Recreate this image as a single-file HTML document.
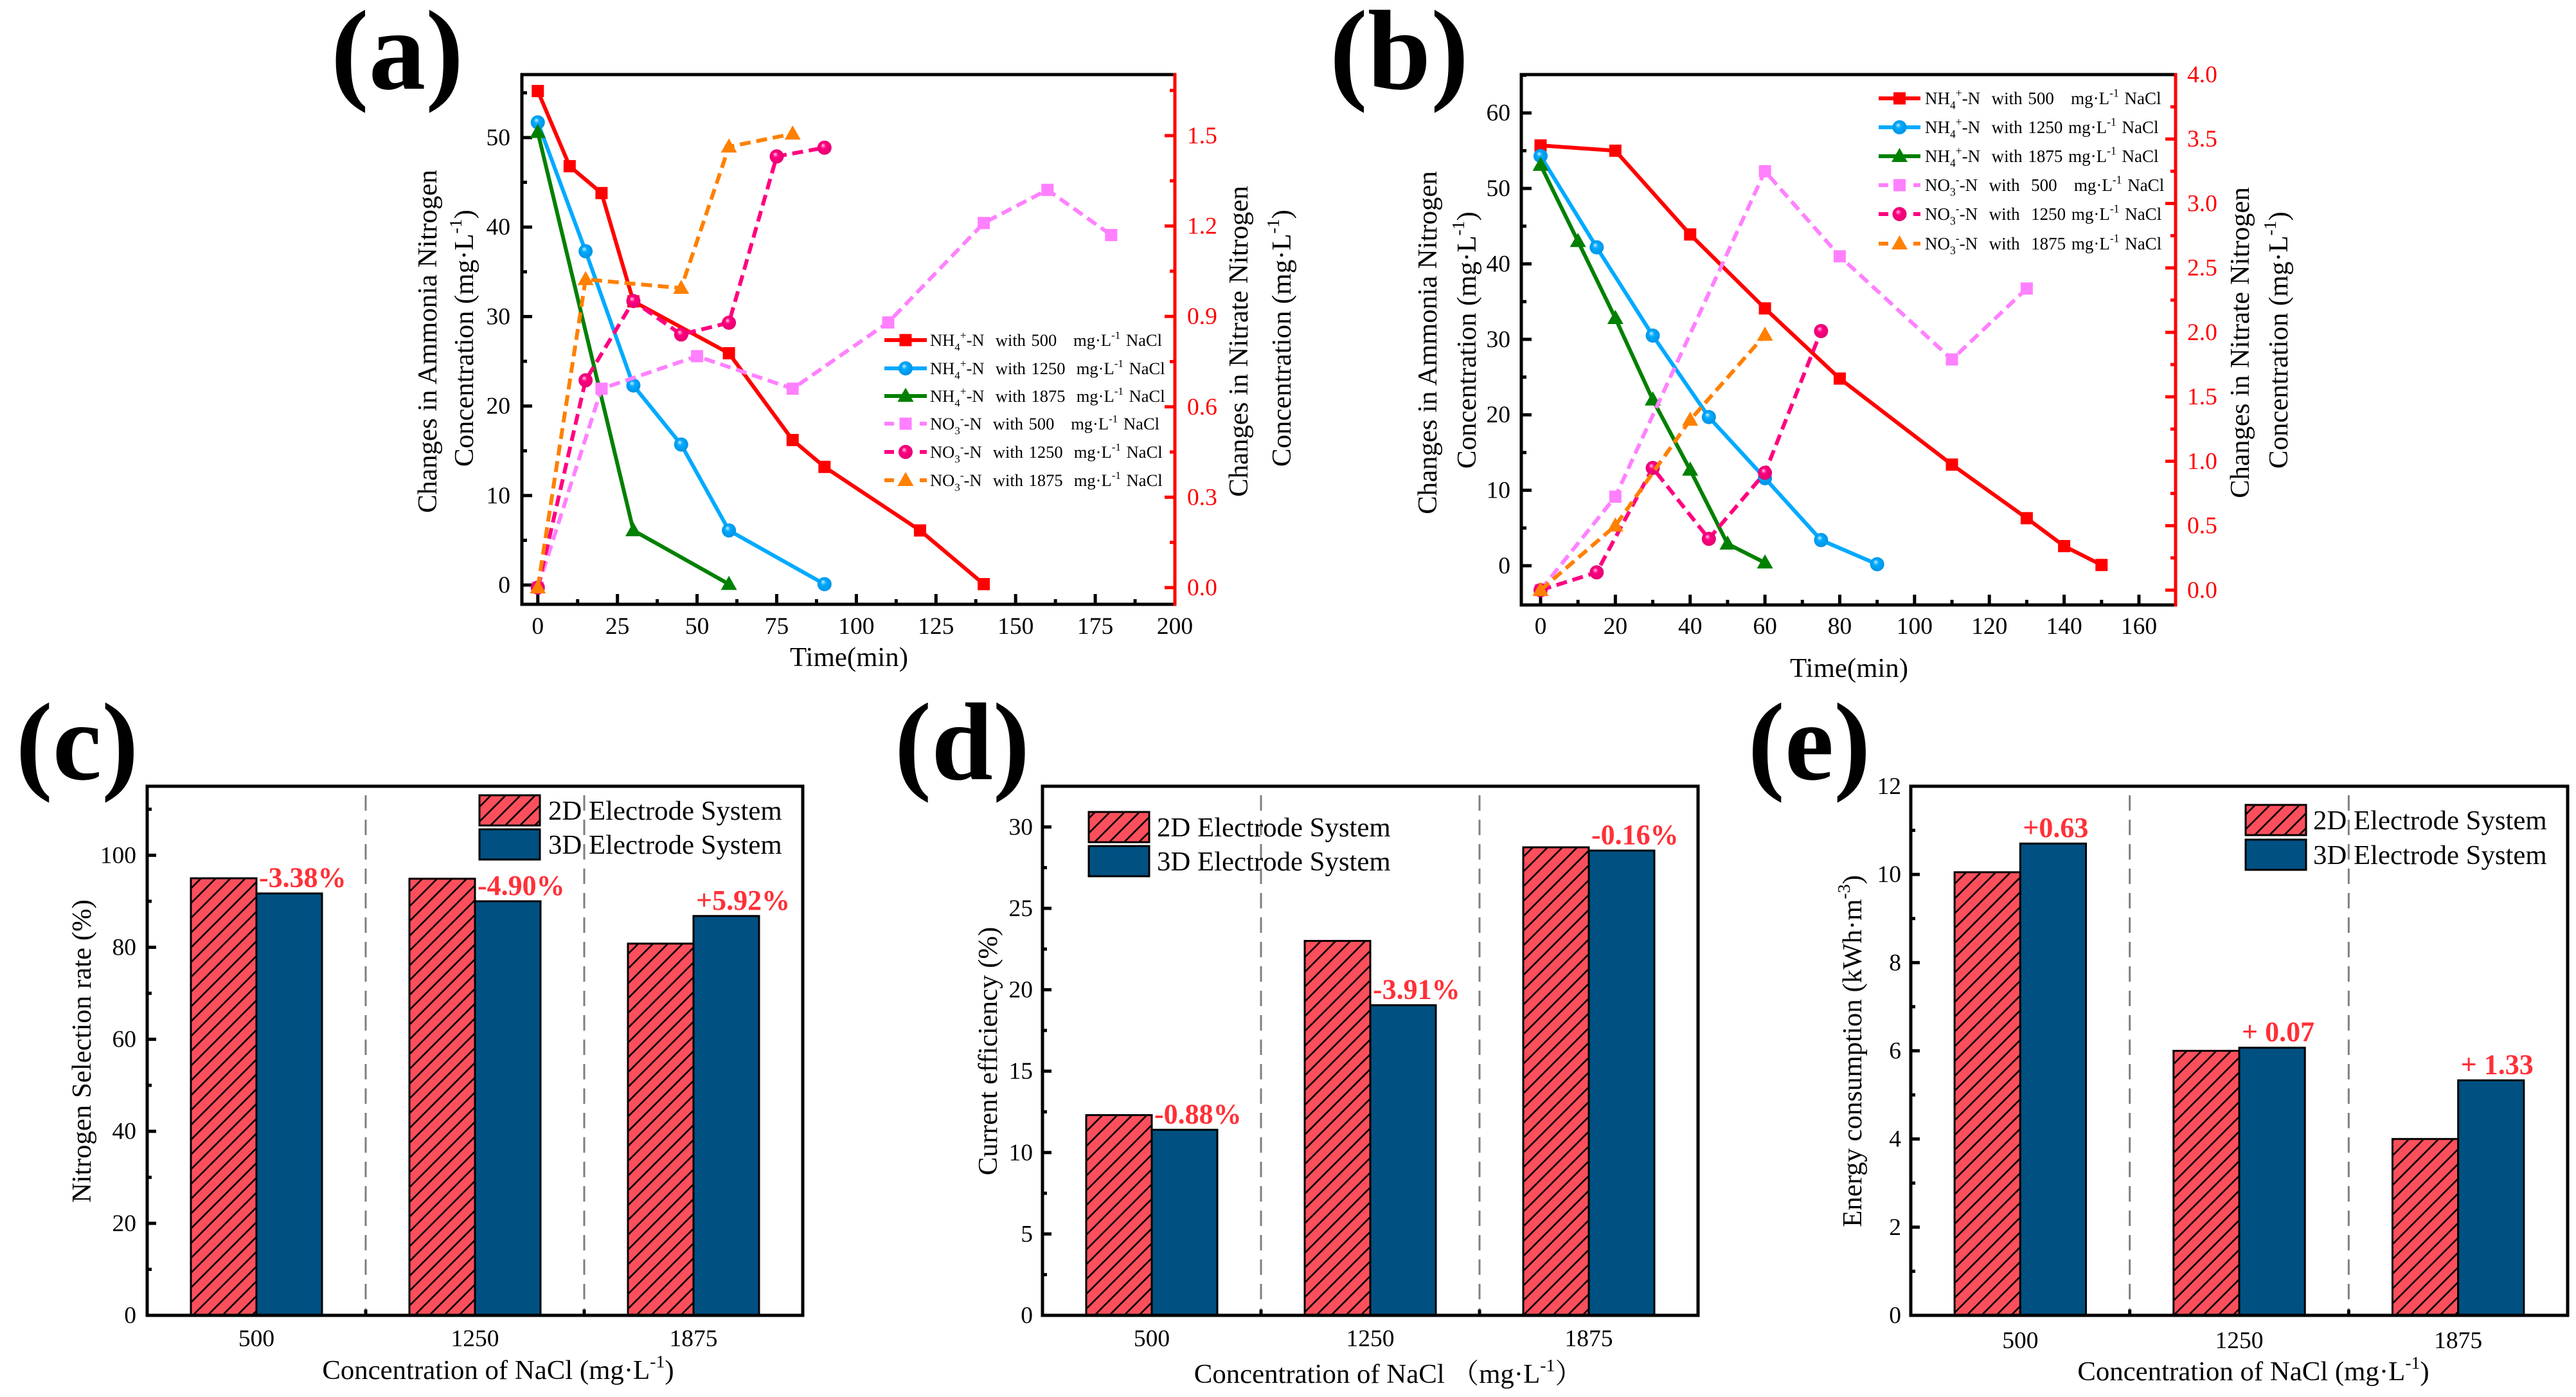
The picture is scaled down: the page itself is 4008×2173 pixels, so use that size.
<!DOCTYPE html>
<html lang="en">
<head>
<meta charset="utf-8">
<title>Nitrogen removal charts</title>
<style>
html,body{margin:0;padding:0;background:#fff;}
svg{display:block;}
text{font-family:"Liberation Serif","Noto Serif CJK SC",serif;white-space:pre;}
</style>
</head>
<body>
<svg id="root" xmlns="http://www.w3.org/2000/svg" width="4008" height="2173" viewBox="0 0 4008 2173">
<defs>
<pattern id="hatch" patternUnits="userSpaceOnUse" width="23" height="23">
<rect width="23" height="23" fill="#fb4f5c"></rect>
<path d="M-4 27L27 -4M-4 4L4 -4M19 27L27 19" stroke="#000" stroke-width="2.6"></path>
</pattern>
<radialGradient id="ball-blue" cx="50%" cy="50%" r="55%" fx="38%" fy="32%"><stop offset="0" stop-color="#cfefff"></stop><stop offset=".35" stop-color="#00aaff"></stop><stop offset="1" stop-color="#0090e0"></stop></radialGradient>
<radialGradient id="ball-pink" cx="50%" cy="50%" r="55%" fx="38%" fy="32%"><stop offset="0" stop-color="#ffd0e8"></stop><stop offset=".35" stop-color="#ff0080"></stop><stop offset="1" stop-color="#e00070"></stop></radialGradient>
</defs>
</svg>
<script>
/* ---------- panel (a) data ---------- */
const aNh4Time500 = [0, 10, 20, 30, 60, 80, 90, 120, 140];
const aNh4Value500 = [55.2, 46.8, 43.8, 31.7, 25.9, 16.2, 13.2, 6.1, 0.1];
const aNh4Time1250 = [0, 15, 30, 45, 60, 90];
const aNh4Value1250 = [51.7, 37.3, 22.3, 15.7, 6.1, 0.1];
const aNh4Time1875 = [0, 30, 60];
const aNh4Value1875 = [50.6, 6.1, 0.1];
const aNo3Time500 = [0, 20, 50, 80, 110, 140, 160, 180];
const aNo3Value500 = [0, 0.66, 0.768, 0.66, 0.88, 1.21, 1.32, 1.17];
const aNo3Time1250 = [0, 15, 30, 45, 60, 75, 90];
const aNo3Value1250 = [0, 0.688, 0.951, 0.84, 0.879, 1.431, 1.46];
const aNo3Time1875 = [0, 15, 45, 60, 80];
const aNo3Value1875 = [0, 1.023, 0.994, 1.463, 1.506];
const aXTicks = ['0', '25', '50', '75', '100', '125', '150', '175', '200'];
const aLeftTicks = ['0', '10', '20', '30', '40', '50'];
const aRightTicks = ['0.0', '0.3', '0.6', '0.9', '1.2', '1.5'];

/* ---------- panel (b) data ---------- */
const bNh4Time500 = [0, 20, 40, 60, 80, 110, 130, 140, 150];
const bNh4Value500 = [55.7, 55, 43.9, 34.1, 24.8, 13.4, 6.3, 2.6, 0.1];
const bNh4Time1250 = [0, 15, 30, 45, 60, 75, 90];
const bNh4Value1250 = [54.3, 42.2, 30.5, 19.7, 11.6, 3.4, 0.2];
const bNh4Time1875 = [0, 10, 20, 30, 40, 50, 60];
const bNh4Value1875 = [53.1, 43, 32.8, 22, 12.7, 2.9, 0.4];
const bNo3Time500 = [0, 20, 60, 80, 110, 130];
const bNo3Value500 = [0, 0.725, 3.25, 2.59, 1.79, 2.34];
const bNo3Time1250 = [0, 15, 30, 45, 60, 75];
const bNo3Value1250 = [0, 0.138, 0.948, 0.398, 0.91, 2.01];
const bNo3Time1875 = [0, 20, 40, 60];
const bNo3Value1875 = [0, 0.5, 1.32, 1.98];
const bXTicks = ['0', '20', '40', '60', '80', '100', '120', '140', '160'];
const bLeftTicks = ['0', '10', '20', '30', '40', '50', '60'];
const bRightTicks = ['0.0', '0.5', '1.0', '1.5', '2.0', '2.5', '3.0', '3.5', '4.0'];

/* ---------- bar panels data ---------- */
const barCategories = ['500', '1250', '1875'];
const cValues2D = [95.0, 94.9, 80.8];
const cValues3D = [91.7, 90.0, 86.8];
const cNotes = ['-3.38%', '-4.90%', '+5.92%'];
const cTicks = ['0', '20', '40', '60', '80', '100'];
const dValues2D = [12.3, 23.0, 28.75];
const dValues3D = [11.4, 19.05, 28.55];
const dNotes = ['-0.88%', '-3.91%', '-0.16%'];
const dTicks = ['0', '5', '10', '15', '20', '25', '30'];
const eValues2D = [10.05, 6.0, 4.0];
const eValues3D = [10.7, 6.07, 5.33];
const eNotes = ['+0.63', '+ 0.07', '+ 1.33'];
const eTicks = ['0', '2', '4', '6', '8', '10', '12'];

/* ---------- helpers ---------- */
const NS = 'http://www.w3.org/2000/svg';
const root = document.getElementById('root');
const TICK_SIZE = 37.5;
const TITLE_SIZE = 42.8;
function mk(tag, attrs, parent) {
  const n = document.createElementNS(NS, tag);
  for (const k in attrs) n.setAttribute(k, attrs[k]);
  (parent || root).appendChild(n);
  return n;
}
function group(name, parent) {
  const g = mk('g', {}, parent);
  
  
  return g;
}
function scale(d0, d1, r0, r1) {
  return v => r0 + (v - d0) / (d1 - d0) * (r1 - r0);
}
/* mini markup: {_4} subscript, {^+} superscript */
function writeRich(node, str, size) {
  const re = /\{([_^])([^}]*)\}/g;
  let last = 0, m, pending = 0;
  const add = (s, dy, fs) => {
    if (!s) return;
    const t = mk('tspan', {}, node);
    if (dy) t.setAttribute('dy', dy);
    if (fs) t.setAttribute('font-size', fs);
    t.textContent = s;
  };
  while ((m = re.exec(str))) {
    const plain = str.slice(last, m.index);
    if (plain) { add(plain, pending); pending = 0; }
    const shift = m[1] === '^' ? -0.42 * size : 0.28 * size;
    add(m[2], pending + shift, 0.65 * size);
    pending = -shift;
    last = re.lastIndex;
  }
  const rest = str.slice(last);
  add(rest || (pending ? ' ' : ''), pending);
}
function label(parent, name, str, x, y, size, opts) {
  opts = opts || {};
  const t = mk('text', {x: x, y: y, 'font-size': size, fill: opts.fill || '#000', 'text-anchor': opts.anchor || 'middle'}, parent);
  
  
  if (opts.weight) t.setAttribute('font-weight', opts.weight);
  if (opts.rotate) t.setAttribute('transform', 'rotate(-90 ' + x + ' ' + y + ')');
  if (opts.wordSpacing) t.setAttribute('word-spacing', opts.wordSpacing);
  writeRich(t, str, size);
  return t;
}
function seg(parent, name, x1, y1, x2, y2, color, width) {
  const l = mk('line', {x1: x1, y1: y1, x2: x2, y2: y2, stroke: color, 'stroke-width': width}, parent);
  
  
  return l;
}
function marker(parent, name, kind, color, x, y) {
  let m;
  if (kind === 'square') {
    m = mk('rect', {x: x - 9.5, y: y - 9.5, width: 19, height: 19, fill: color}, parent);
  } else if (kind === 'circle') {
    const fill = color === '#00aaff' ? 'url(#ball-blue)' : 'url(#ball-pink)';
    m = mk('circle', {cx: x, cy: y, r: 11, fill: fill}, parent);
  } else {
    m = mk('polygon', {points: (x) + ',' + (y - 13) + ' ' + (x + 12.5) + ',' + (y + 9) + ' ' + (x - 12.5) + ',' + (y + 9), fill: color}, parent);
  }
  
  
  return m;
}

/* ---------- line panels ---------- */
function linePanel(c) {
  const g = group(c.id + '-line-chart');
  const sx = scale(c.xDomain[0], c.xDomain[1], c.box.l, c.box.r);
  const syL = scale(c.leftDomain[0], c.leftDomain[1], c.box.b, c.box.t);
  const syR = scale(c.rightDomain[0], c.rightDomain[1], c.box.b, c.box.t);

  const axes = group('axes', g);
  // x ticks
  const xStep = Number(c.xTicks[1]) - Number(c.xTicks[0]);
  c.xTicks.forEach(s => {
    const v = Number(s), x = sx(v);
    seg(axes, 'x-major-tick', x, c.box.b, x, c.box.b - 16, '#000', 5);
    label(axes, 'x-tick-label', s, x, c.xLabelY, TICK_SIZE);
    const mid = v + xStep / 2;
    if (mid < c.xDomain[1]) seg(axes, 'x-minor-tick', sx(mid), c.box.b, sx(mid), c.box.b - 8, '#000', 5);
  });
  // left ticks
  const lStep = Number(c.leftTicks[1]) - Number(c.leftTicks[0]);
  c.leftTicks.forEach(s => {
    const v = Number(s), y = syL(v);
    seg(axes, 'left-major-tick', c.box.l, y, c.box.l + 16, y, '#000', 5);
    label(axes, 'left-tick-label', s, c.leftLabelX, y + 12, TICK_SIZE, {anchor: 'end'});
    const mid = v + lStep / 2;
    if (mid < c.leftDomain[1]) seg(axes, 'left-minor-tick', c.box.l, syL(mid), c.box.l + 8, syL(mid), '#000', 5);
  });
  // right ticks
  const rStep = Number(c.rightTicks[1]) - Number(c.rightTicks[0]);
  c.rightTicks.forEach(s => {
    const v = Number(s), y = syR(v);
    seg(axes, 'right-major-tick', c.box.r, y, c.box.r - 16, y, '#ff0000', 5);
    label(axes, 'right-tick-label', s, c.rightLabelX, y + 12, TICK_SIZE, {anchor: 'start', fill: '#ff0000'});
    const mid = v + rStep / 2;
    if (mid < c.rightDomain[1]) seg(axes, 'right-minor-tick', c.box.r, syR(mid), c.box.r - 8, syR(mid), '#ff0000', 5);
  });
  // frame
  seg(axes, 'top-axis', c.box.l - 2.5, c.box.t, c.box.r, c.box.t, '#000', 5);
  seg(axes, 'bottom-axis', c.box.l - 2.5, c.box.b, c.box.r, c.box.b, '#000', 5);
  seg(axes, 'left-axis', c.box.l, c.box.t, c.box.l, c.box.b, '#000', 5);
  seg(axes, 'right-axis', c.box.r, c.box.t - 2.5, c.box.r, c.box.b + 2.5, '#ff0000', 5);

  // titles
  label(g, 'left-axis-title', 'Changes in Ammonia Nitrogen', c.titles.l1x, c.titles.l1y, TITLE_SIZE, {rotate: true});
  label(g, 'left-axis-title-unit', 'Concentration (mg·L{^-1})', c.titles.l2x, c.titles.l2y, TITLE_SIZE, {rotate: true});
  label(g, 'right-axis-title', 'Changes in Nitrate Nitrogen', c.titles.r1x, c.titles.r1y, TITLE_SIZE, {rotate: true});
  label(g, 'right-axis-title-unit', 'Concentration (mg·L{^-1})', c.titles.r2x, c.titles.r2y, TITLE_SIZE, {rotate: true});
  label(g, 'x-axis-title', 'Time(min)', c.titles.xx, c.titles.xy, TITLE_SIZE);

  // series
  c.series.forEach(s => {
    const sg = group('series-' + s.name, g);
    const sy = s.axis === 'left' ? syL : syR;
    const pts = s.x.map((v, i) => sx(v) + ',' + sy(s.y[i])).join(' ');
    const line = mk('polyline', {points: pts, fill: 'none', stroke: s.color, 'stroke-width': 6, 'stroke-linejoin': 'round'}, sg);
    
    
    if (s.dash) line.setAttribute('stroke-dasharray', '17 9');
    s.x.forEach((v, i) => marker(sg, 'point-' + s.name, s.kind, s.color, sx(v), sy(s.y[i])));
  });

  // legend
  const lg = group('legend', g);
  c.series.forEach((s, i) => {
    const y = c.legend.ys[i], x0 = c.legend.x0, x1 = c.legend.x1, mid = (x0 + x1) / 2;
    if (s.dash) {
      seg(lg, 'legend-dash-left', x0, y, x0 + 15, y, s.color, 6);
      seg(lg, 'legend-dash-right', x1 - 11, y, x1, y, s.color, 6);
    } else {
      seg(lg, 'legend-line', x0, y, x1, y, s.color, 6);
    }
    marker(lg, 'legend-marker', s.kind, s.color, mid, y);
    label(lg, 'legend-entry', s.label, c.legend.tx, y + 9, c.legend.size, {anchor: 'start', wordSpacing: 2});
  });
}

const colors = {red: '#ff0000', blue: '#00aaff', green: '#008000', pink: '#ff80ff', magenta: '#ff0080', orange: '#ff8000'};

linePanel({
  id: 'panel-a',
  box: {l: 812, r: 1828, t: 116, b: 940},
  xDomain: [-5, 200], leftDomain: [-2.155, 57.04], rightDomain: [-0.0555, 1.7026],
  xTicks: aXTicks, leftTicks: aLeftTicks, rightTicks: aRightTicks,
  xLabelY: 986, leftLabelX: 794, rightLabelX: 1847,
  titles: {l1x: 679, l1y: 531, l2x: 736, l2y: 526, r1x: 1941, r1y: 531, r2x: 2008, r2y: 526, xx: 1321, xy: 1036},
  legend: {x0: 1376, x1: 1442, tx: 1447, size: 26.5, ys: [529, 573, 616, 659, 703, 747]},
  series: [
    {name: 'nh4-500', axis: 'left', x: aNh4Time500, y: aNh4Value500, color: colors.red, kind: 'square', dash: false, label: 'NH{_4}{^+}-N  with 500   mg·L{^-1} NaCl'},
    {name: 'nh4-1250', axis: 'left', x: aNh4Time1250, y: aNh4Value1250, color: colors.blue, kind: 'circle', dash: false, label: 'NH{_4}{^+}-N  with 1250  mg·L{^-1} NaCl'},
    {name: 'nh4-1875', axis: 'left', x: aNh4Time1875, y: aNh4Value1875, color: colors.green, kind: 'triangle', dash: false, label: 'NH{_4}{^+}-N  with 1875  mg·L{^-1} NaCl'},
    {name: 'no3-500', axis: 'right', x: aNo3Time500, y: aNo3Value500, color: colors.pink, kind: 'square', dash: true, label: 'NO{_3}{^-}-N  with 500   mg·L{^-1} NaCl'},
    {name: 'no3-1250', axis: 'right', x: aNo3Time1250, y: aNo3Value1250, color: colors.magenta, kind: 'circle', dash: true, label: 'NO{_3}{^-}-N  with 1250  mg·L{^-1} NaCl'},
    {name: 'no3-1875', axis: 'right', x: aNo3Time1875, y: aNo3Value1875, color: colors.orange, kind: 'triangle', dash: true, label: 'NO{_3}{^-}-N  with 1875  mg·L{^-1} NaCl'}
  ]
});

linePanel({
  id: 'panel-b',
  box: {l: 2367, r: 3385, t: 116, b: 941},
  xDomain: [-5.15, 169.8], leftDomain: [-5.2, 65.09], rightDomain: [-0.115, 4.0],
  xTicks: bXTicks, leftTicks: bLeftTicks, rightTicks: bRightTicks,
  xLabelY: 986, leftLabelX: 2350, rightLabelX: 3403,
  titles: {l1x: 2235, l1y: 533, l2x: 2296, l2y: 529, r1x: 3499, r1y: 533, r2x: 3559, r2y: 529, xx: 2877, xy: 1053},
  legend: {x0: 2923, x1: 2988, tx: 2995, size: 27, ys: [153, 198, 243, 288, 333, 379]},
  series: [
    {name: 'nh4-500', axis: 'left', x: bNh4Time500, y: bNh4Value500, color: colors.red, kind: 'square', dash: false, label: 'NH{_4}{^+}-N  with 500   mg·L{^-1} NaCl'},
    {name: 'nh4-1250', axis: 'left', x: bNh4Time1250, y: bNh4Value1250, color: colors.blue, kind: 'circle', dash: false, label: 'NH{_4}{^+}-N  with 1250 mg·L{^-1} NaCl'},
    {name: 'nh4-1875', axis: 'left', x: bNh4Time1875, y: bNh4Value1875, color: colors.green, kind: 'triangle', dash: false, label: 'NH{_4}{^+}-N  with 1875 mg·L{^-1} NaCl'},
    {name: 'no3-500', axis: 'right', x: bNo3Time500, y: bNo3Value500, color: colors.pink, kind: 'square', dash: true, label: 'NO{_3}{^-}-N  with  500   mg·L{^-1} NaCl'},
    {name: 'no3-1250', axis: 'right', x: bNo3Time1250, y: bNo3Value1250, color: colors.magenta, kind: 'circle', dash: true, label: 'NO{_3}{^-}-N  with  1250 mg·L{^-1} NaCl'},
    {name: 'no3-1875', axis: 'right', x: bNo3Time1875, y: bNo3Value1875, color: colors.orange, kind: 'triangle', dash: true, label: 'NO{_3}{^-}-N  with  1875 mg·L{^-1} NaCl'}
  ]
});

/* ---------- bar panels ---------- */
function barPanel(c) {
  const g = group(c.id + '-bar-chart');
  const T = 1223, B = 2046;
  const sx = scale(0.5, 3.5, c.l, c.r);
  const sy = scale(0, c.yMax, B, T);
  const bw = (sx(2) - sx(1)) * 0.3;

  // dashed separators
  [1.5, 2.5].forEach(v => {
    const d = seg(g, 'category-separator', sx(v), T + 14, sx(v), B, '#7f7f7f', 3);
    d.setAttribute('stroke-dasharray', '24 14');
    seg(g, 'separator-tick', sx(v), B, sx(v), B - 9, '#000', 5);
  });

  // bars
  const bars = group('bars', g);
  barCategories.forEach((cat, i) => {
    const cx = sx(i + 1);
    const a = mk('rect', {x: cx - bw, y: sy(c.v2[i]), width: bw, height: B - sy(c.v2[i]), fill: 'url(#hatch)', stroke: '#000', 'stroke-width': 3}, bars);
    
    
    const b = mk('rect', {x: cx, y: sy(c.v3[i]), width: bw, height: B - sy(c.v3[i]), fill: '#005082', stroke: '#000', 'stroke-width': 3}, bars);
    
    
    label(g, 'category-label', cat, cx, c.catY, TICK_SIZE);
    label(g, 'change-annotation', c.notes[i], cx + 4, sy(c.v3[i]) - 10, 44, {anchor: 'start', fill: '#ff3038', weight: 'bold'});
  });

  // y ticks
  const step = Number(c.ticks[1]) - Number(c.ticks[0]);
  c.ticks.forEach(s => {
    const v = Number(s), y = sy(v);
    seg(g, 'y-major-tick', c.l, y, c.l + 14, y, '#000', 5);
    label(g, 'y-tick-label', s, c.tickX, y + 12, TICK_SIZE, {anchor: 'end'});
    const mid = v + step / 2;
    if (mid < c.yMax) seg(g, 'y-minor-tick', c.l, sy(mid), c.l + 7, sy(mid), '#000', 5);
  });

  // frame
  const f = mk('rect', {x: c.l, y: T, width: c.r - c.l, height: B - T, fill: 'none', stroke: '#000', 'stroke-width': 5}, g);
  
  

  // titles
  label(g, 'y-axis-title', c.yTitle, c.yTitleX, 1635, TITLE_SIZE, {rotate: true});
  label(g, 'x-axis-title', c.xTitle, c.xTitleX, c.xTitleY, TITLE_SIZE);

  // legend
  const lg = group('legend', g);
  [['2D Electrode System', 'url(#hatch)'], ['3D Electrode System', '#005082']].forEach((row, i) => {
    const y = c.legend.y[i];
    const sw = mk('rect', {x: c.legend.x, y: y, width: 94, height: 47, fill: row[1], stroke: '#000', 'stroke-width': 3}, lg);
    
    
    label(lg, 'legend-entry', row[0], c.legend.tx, y + 38, TITLE_SIZE, {anchor: 'start'});
  });
}

barPanel({id: 'panel-c', l: 229, r: 1249, yMax: 115, v2: cValues2D, v3: cValues3D, notes: cNotes, ticks: cTicks, tickX: 212, catY: 2094,
  yTitle: 'Nitrogen Selection rate (%)', yTitleX: 141, xTitle: 'Concentration of NaCl (mg·L{^-1})', xTitleX: 775, xTitleY: 2145,
  legend: {x: 746, y: [1237, 1290], tx: 853}});
barPanel({id: 'panel-d', l: 1622, r: 2642, yMax: 32.5, v2: dValues2D, v3: dValues3D, notes: dNotes, ticks: dTicks, tickX: 1607, catY: 2094,
  yTitle: 'Current efficiency (%)', yTitleX: 1551, xTitle: 'Concentration of NaCl （mg·L{^-1}）', xTitleX: 2160, xTitleY: 2151,
  legend: {x: 1694, y: [1263, 1316], tx: 1800}});
barPanel({id: 'panel-e', l: 2973, r: 3995, yMax: 12, v2: eValues2D, v3: eValues3D, notes: eNotes, ticks: eTicks, tickX: 2958, catY: 2097,
  yTitle: 'Energy consumption (kWh·m{^-3})', yTitleX: 2896, xTitle: 'Concentration of NaCl (mg·L{^-1})', xTitleX: 3506, xTitleY: 2147,
  legend: {x: 3494, y: [1252, 1306], tx: 3599}});

/* ---------- panel letters ---------- */
label(root, 'panel-label-a', '(a)', 618, 138, 177, {weight: 'bold'});
label(root, 'panel-label-b', '(b)', 2177, 138, 177, {weight: 'bold'});
label(root, 'panel-label-c', '(c)', 120, 1212, 172, {weight: 'bold'});
label(root, 'panel-label-d', '(d)', 1497, 1212, 172, {weight: 'bold'});
label(root, 'panel-label-e', '(e)', 2815, 1212, 172, {weight: 'bold'});
</script>
</body>
</html>
